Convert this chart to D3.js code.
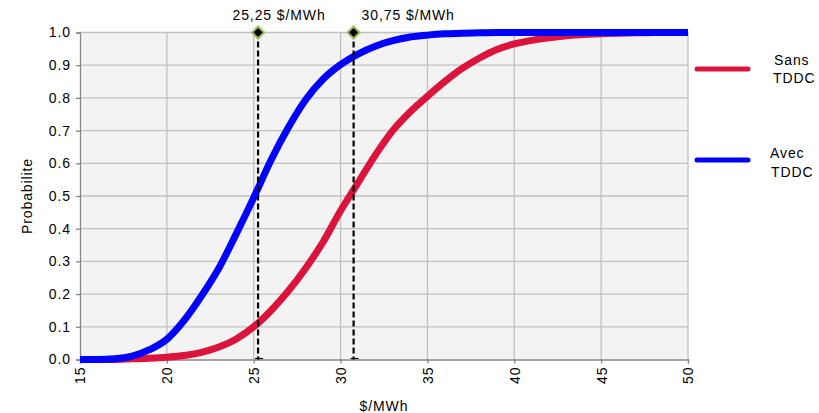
<!DOCTYPE html>
<html><head><meta charset="utf-8">
<script src="https://cdn.jsdelivr.net/npm/d3@7"></script>
<style>body{margin:0;background:#fff}svg{display:block;font-family:"Liberation Sans",Arial,sans-serif}text{letter-spacing:0.9px}</style>
</head><body>
<svg id="c" width="819" height="413"></svg>
<script>
const xValues = [15,16,17,18,19,20,21,22,23,24,25,26,27,28,29,30,31,32,33,34,35,36,37,38,39,40,41,42,43,44,45,46,47,48,49,50];
const avecTDDC = [0,0,0.002,0.01,0.03,0.062,0.12,0.195,0.28,0.385,0.495,0.61,0.71,0.795,0.858,0.902,0.934,0.958,0.975,0.986,0.992,0.996,0.998,0.999,1,1,1,1,1,1,1,1,1,1,1,1];
const sansTDDC = [0,0,0,0.002,0.004,0.007,0.012,0.022,0.038,0.063,0.1,0.15,0.21,0.28,0.36,0.455,0.54,0.625,0.70,0.757,0.805,0.85,0.89,0.922,0.948,0.965,0.976,0.984,0.99,0.994,0.996,0.998,0.999,1,1,1];
const markers = [{x:25.25,label:"25,25 $/MWh"},{x:30.75,label:"30,75 $/MWh"}];
const xTicks = [15,20,25,30,35,40,45,50];
const yTicks = [0,0.1,0.2,0.3,0.4,0.5,0.6,0.7,0.8,0.9,1.0];
const seriesNames = ["Sans TDDC","Avec TDDC"];

const svg = d3.select("#c");
const x = d3.scaleLinear().domain([15,50]).range([80,688]);
const y = d3.scaleLinear().domain([0,1]).range([359.5,32.5]);
const FS = 14;

svg.append("rect").attr("x",80).attr("y",32.5).attr("width",608).attr("height",327).attr("fill","#f3f3f3");

// grid
svg.append("g").selectAll("line").data(yTicks.slice(1)).join("line")
  .attr("x1",80).attr("x2",688).attr("y1",d=>y(d)).attr("y2",d=>y(d))
  .attr("stroke","#c0c0c0").attr("stroke-width",1.3);
svg.append("g").selectAll("line").data(xTicks.slice(1)).join("line")
  .attr("x1",d=>x(d)).attr("x2",d=>x(d)).attr("y1",32.5).attr("y2",359.5)
  .attr("stroke","#c0c0c0").attr("stroke-width",1.3);

// axes
const yAxis = svg.append("g").attr("transform","translate(80,0)")
  .call(d3.axisLeft(y).tickValues(yTicks).tickFormat(d3.format(".1f")).tickSize(4).tickPadding(5));
const xAxis = svg.append("g").attr("transform","translate(0,359.5)")
  .call(d3.axisBottom(x).tickValues(xTicks).tickSize(4));
[yAxis,xAxis].forEach(a=>{
  a.select(".domain").attr("stroke","#868686").attr("stroke-width",1.3);
  a.selectAll(".tick line").attr("stroke","#868686").attr("stroke-width",1.3);
  a.selectAll("text").attr("font-size",FS).attr("fill","#000").attr("font-family","Liberation Sans, Arial, sans-serif");
});
xAxis.selectAll("text").attr("transform","rotate(-90)").attr("text-anchor","end")
  .attr("x",-7).attr("y",0).attr("dy","0.35em");

svg.append("text").attr("x",384).attr("y",411).attr("text-anchor","middle").attr("font-size",FS).text("$/MWh");
svg.append("text").attr("transform","translate(32,196) rotate(-90)").attr("text-anchor","middle").attr("font-size",FS).text("Probabilite");

// curves
const line = d3.line().x((d,i)=>x(xValues[i])).y(d=>y(d)).curve(d3.curveMonotoneX);
svg.append("path").datum(sansTDDC).attr("d",line).attr("fill","none").attr("stroke","#dc143c").attr("stroke-width",7).attr("stroke-linejoin","round");
svg.append("path").datum(avecTDDC).attr("d",line).attr("fill","none").attr("stroke","#0000ff").attr("stroke-width",7).attr("stroke-linejoin","round");

// markers
const mg = svg.append("g");
markers.forEach((m,i)=>{
  mg.append("line").attr("x1",x(m.x)).attr("x2",x(m.x)).attr("y1",y(1)).attr("y2",y(0))
    .attr("stroke","#000").attr("stroke-width",2.2).attr("stroke-dasharray","6,3");
  mg.append("line").attr("x1",x(m.x)-3).attr("x2",x(m.x)+5).attr("y1",y(0)-1).attr("y2",y(0)-1)
    .attr("stroke","#000").attr("stroke-width",1.2);
  mg.append("path").attr("d",d3.symbol(d3.symbolSquare,72)())
    .attr("transform",`translate(${x(m.x)},${y(1)}) rotate(45)`)
    .attr("fill","#000").attr("stroke","#9bbb59").attr("stroke-width",2);
  mg.append("text").attr("x", i===0 ? x(m.x)+21 : x(m.x)+8).attr("y",20)
    .attr("text-anchor", i===0 ? "middle" : "start").attr("font-size",FS).text(m.label);
});

// legend
const lg = svg.append("g");
const legendItems = [{name:seriesNames[0],color:"#dc143c",ly:69,ty:[60,78],tx:[774,773]},{name:seriesNames[1],color:"#0000ff",ly:160,ty:[153,172],tx:[770,771]}];
legendItems.forEach(it=>{
  lg.append("line").attr("x1",697).attr("x2",748).attr("y1",it.ly).attr("y2",it.ly)
    .attr("stroke",it.color).attr("stroke-width",5).attr("stroke-linecap","round");
  const parts = it.name.split(" ");
  parts.forEach((p,j)=>lg.append("text").attr("x",it.tx[j]).attr("y",it.ty[j]).attr("dy","0.35em").attr("font-size",FS).text(p));
});
</script>
</body></html>
